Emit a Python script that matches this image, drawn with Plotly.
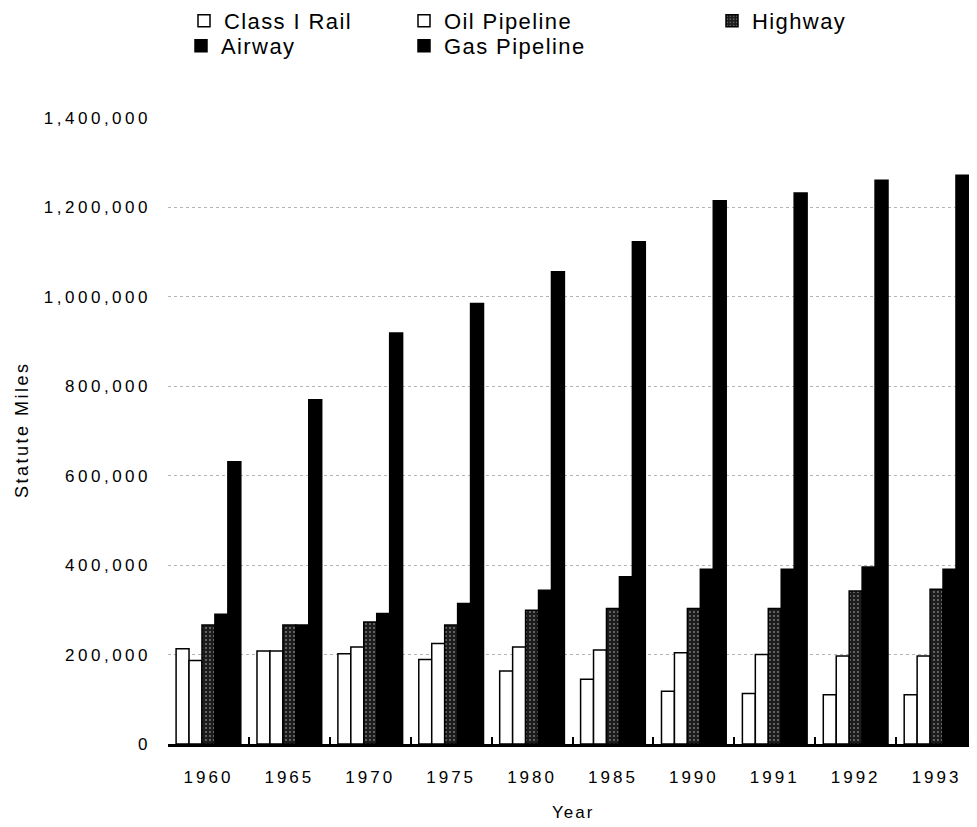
import plotly.graph_objects as go

# ---------------- data (statute miles) ----------------
years = ["1960", "1965", "1970", "1975", "1980", "1985", "1990", "1991", "1992", "1993"]
class_i_rail = [213000, 208000, 202000, 189000, 163000, 145000, 118000, 113000, 110000, 110000]
oil_pipeline = [187000, 208000, 217000, 225000, 217000, 210000, 204000, 200000, 197000, 197000]
highway = [266000, 266000, 273000, 266000, 299000, 303000, 303000, 303000, 342000, 346000]
airway = [290000, 266000, 292000, 314000, 344000, 374000, 391000, 391000, 396000, 391000]
gas_pipeline = [631000, 770000, 919000, 985000, 1056000, 1123000, 1215000, 1232000, 1261000, 1272000]

y_tick_values = [0, 200000, 400000, 600000, 800000, 1000000, 1200000, 1400000]
y_tick_labels = ["0", "200,000", "400,000", "600,000", "800,000", "1,000,000", "1,200,000", "1,400,000"]

FONT = "Liberation Sans, Arial, Helvetica, sans-serif"
W, H = 969, 819  # page body has an 8px margin inside the 977x827 window
ML, MT, MB = 160, 110, 83
PW, PH = W - ML, H - MT - MB


def spaced(txt, px):
    return '<span style="letter-spacing:%spx">%s</span>' % (px, txt)


def px_x(px):
    return (px - ML) / PW


def px_y(py):
    return (H - MB - py) / PH


fig = go.Figure()

# (name, values, marker, legend id, legend left px, legend top px)
series = [
    ("Class I Rail", class_i_rail, dict(color="white"), "legend", 176, -8),
    ("Oil Pipeline", oil_pipeline, dict(color="white"), "legend2", 396, -8),
    ("Highway", highway, dict(color="#1c1c1c",
                              pattern=dict(shape=".", fgcolor="#d0d0d0", bgcolor="#1c1c1c",
                                           size=4, solidity=0.1, fillmode="replace")),
     "legend3", 704, -8),
    ("Airway", airway, dict(color="black"), "legend4", 173, 17),
    ("Gas Pipeline", gas_pipeline, dict(color="black"), "legend5", 396, 17),
]

legends = {}
for name, vals, mk, lg, lx, ly in series:
    mk = dict(mk)
    mk["line"] = dict(color="black", width=1.5)
    fig.add_trace(go.Bar(x=years, y=vals, name=spaced(name, 1.4), marker=mk, legend=lg))
    legends[lg] = dict(orientation="v", xref="paper", yref="paper",
                       xanchor="left", yanchor="top", bgcolor="rgba(0,0,0,0)",
                       font=dict(family=FONT, size=22, color="black"),
                       itemclick=False, x=px_x(lx), y=px_y(ly))

fig.update_layout(
    width=W, height=H,
    paper_bgcolor="white", plot_bgcolor="white",
    margin=dict(l=ML, r=0, t=MT, b=MB, autoexpand=False),
    barmode="group", bargap=0.2, bargroupgap=0,
    font=dict(family=FONT, size=17, color="black"),
    xaxis=dict(
        type="category",
        showline=True, linecolor="black", linewidth=2.5,
        ticks="inside", tickson="boundaries", ticklen=7, tickwidth=1.5, tickcolor="black",
        tickvals=years, ticktext=[spaced(t, 3) for t in years],
        tickfont=dict(family=FONT, size=17, color="black"),
        ticklabelstandoff=16,
        showgrid=False,
        automargin=False,
    ),
    yaxis=dict(
        range=[0, 1400000],
        tickvals=y_tick_values, ticktext=[spaced(t, 3.5) for t in y_tick_labels],
        tickfont=dict(family=FONT, size=17, color="black"),
        ticks="", ticklabelstandoff=16,
        showgrid=True, gridcolor="#b4b4b4", griddash="dot", gridwidth=1,
        zeroline=False, showline=False,
        automargin=False,
    ),
    annotations=[
        dict(text=spaced("Year", 2), xref="paper", yref="paper",
             x=0.5, y=px_y(804), xanchor="center", yanchor="middle",
             showarrow=False, font=dict(family=FONT, size=17, color="black")),
        dict(text=spaced("Statute Miles", 2.5), xref="paper", yref="paper",
             x=px_x(14), y=px_y(422), xanchor="center", yanchor="middle", textangle=-90,
             showarrow=False, font=dict(family=FONT, size=18, color="black")),
    ],
    showlegend=True,
)
fig.update_layout(**legends)

fig.write_html("out.html")
